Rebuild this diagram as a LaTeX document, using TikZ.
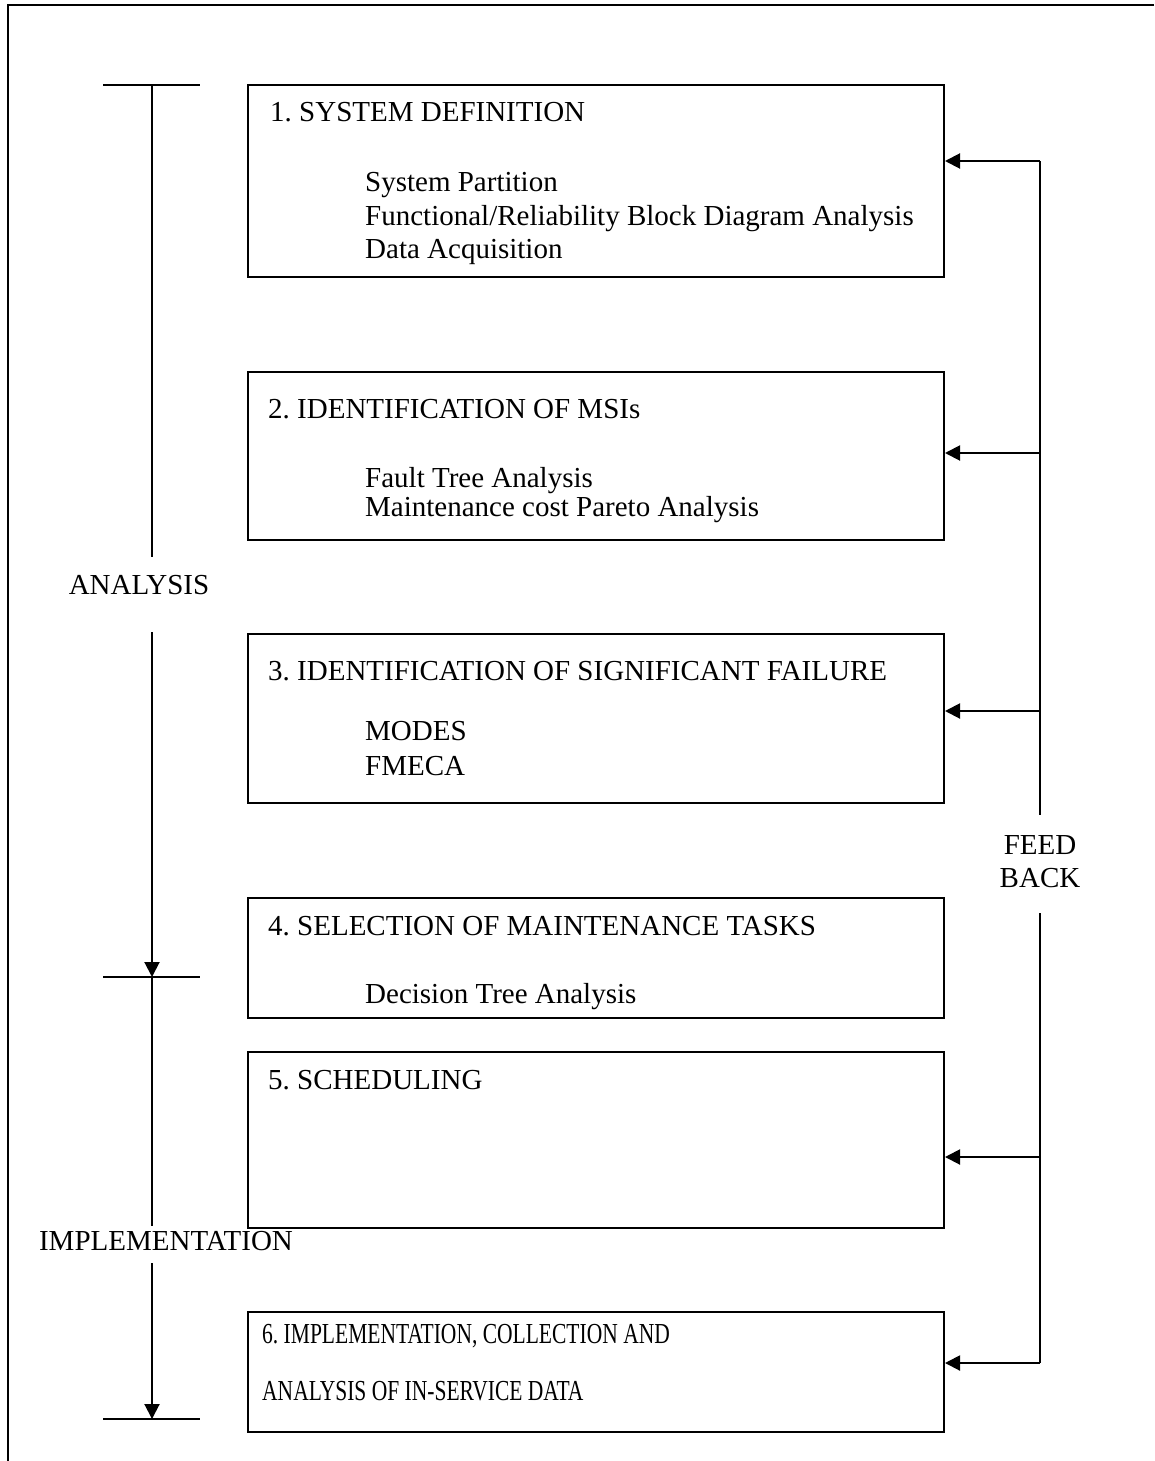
\documentclass[tikz,border=0pt]{standalone}
\usepackage{fontspec}
\setmainfont{Liberation Serif}
\usetikzlibrary{arrows.meta}
\frenchspacing
\begin{document}
\begin{tikzpicture}[x=1pt,y=-1pt,
  every node/.style={font=\fontsize{29}{34}\selectfont},
  line/.style={line width=2pt},
  arr/.style={line width=2pt,-{Triangle[length=15pt,width=15pt]}},
  stage/.style={draw,line width=2pt,rectangle,minimum width=696pt,inner sep=0pt},
  txt/.style={anchor=base west,inner sep=0pt}]
\useasboundingbox (0,0) rectangle (1154,1461);
% outer frame (top and left edges)
\draw[line] (1154,5) -- (8,5) -- (8,1461);

% stage boxes
\node[stage,minimum height=192pt] (b1) at (596,181) {};
\node[stage,minimum height=168pt] (b2) at (596,456) {};
\node[stage,minimum height=169pt] (b3) at (596,718.5) {};
\node[stage,minimum height=120pt] (b4) at (596,958) {};
\node[stage,minimum height=176pt] (b5) at (596,1140) {};
\node[stage,minimum height=120pt] (b6) at (596,1372) {};

% box texts
\node[txt] (t1) at (270,122) {1. SYSTEM DEFINITION};
\node[txt] (t1a) at (365,191) {System Partition};
\node[txt] (t1b) at (365,225) {Functional/Reliability Block Diagram Analysis};
\node[txt] (t1c) at (365,258) {Data Acquisition};

\node[txt] (t2) at (268,418) {2. IDENTIFICATION OF MSIs};
\node[txt] (t2a) at (365,487) {Fault Tree Analysis};
\node[txt] (t2b) at (365,516) {Maintenance cost Pareto Analysis};

\node[txt] (t3) at (268,680) {3. IDENTIFICATION OF SIGNIFICANT FAILURE};
\node[txt] (t3a) at (365,740) {MODES};
\node[txt] (t3b) at (365,775) {FMECA};

\node[txt] (t4) at (268,935) {4. SELECTION OF MAINTENANCE TASKS};
\node[txt] (t4a) at (365,1003) {Decision Tree Analysis};

\node[txt] (t5) at (268,1089) {5. SCHEDULING};

\node[txt] (t6) at (262,1343) {\scalebox{0.742}[1]{6. IMPLEMENTATION, COLLECTION AND}};
\node[txt] (t6b) at (262,1400) {\scalebox{0.742}[1]{ANALYSIS OF IN-SERVICE DATA}};

% phase bracket on the left
\node[anchor=base,inner sep=0pt] (an) at (139,594) {ANALYSIS};
\node[anchor=base,inner sep=0pt] (im) at (166,1250) {IMPLEMENTATION};
\coordinate (p0) at (152,85);
\coordinate (p1) at (152,557);
\coordinate (p2) at (152,632);
\coordinate (p3) at (152,977);
\coordinate (p4) at (152,1226);
\coordinate (p5) at (152,1263);
\coordinate (p6) at (152,1419);
\draw[line] (103,85) -- (200,85);
\draw[line] (103,977) -- (200,977);
\draw[line] (103,1419) -- (200,1419);
\draw[line] (p0) -- (p1);
\draw[arr] (p2) -- (p3);
\draw[line] (p3) -- (p4);
\draw[arr] (p5) -- (p6);

% feedback loop on the right
\node[align=center,inner sep=0pt] (fb) at (1040,862) {FEED\\[-1pt]BACK};
\coordinate (f1) at (1040,161);
\coordinate (f2) at (1040,453);
\coordinate (f3) at (1040,711);
\coordinate (fa) at (1040,815);
\coordinate (fc) at (1040,913);
\coordinate (f5) at (1040,1157);
\coordinate (f6) at (1040,1363);
\draw[line] (f1) -- (fa);
\draw[line] (fc) -- (f6);
\draw[arr] (f1) -- (f1 -| b1.east);
\draw[arr] (f2) -- (f2 -| b2.east);
\draw[arr] (f3) -- (f3 -| b3.east);
\draw[arr] (f5) -- (f5 -| b5.east);
\draw[arr] (f6) -- (f6 -| b6.east);
\end{tikzpicture}
\end{document}
